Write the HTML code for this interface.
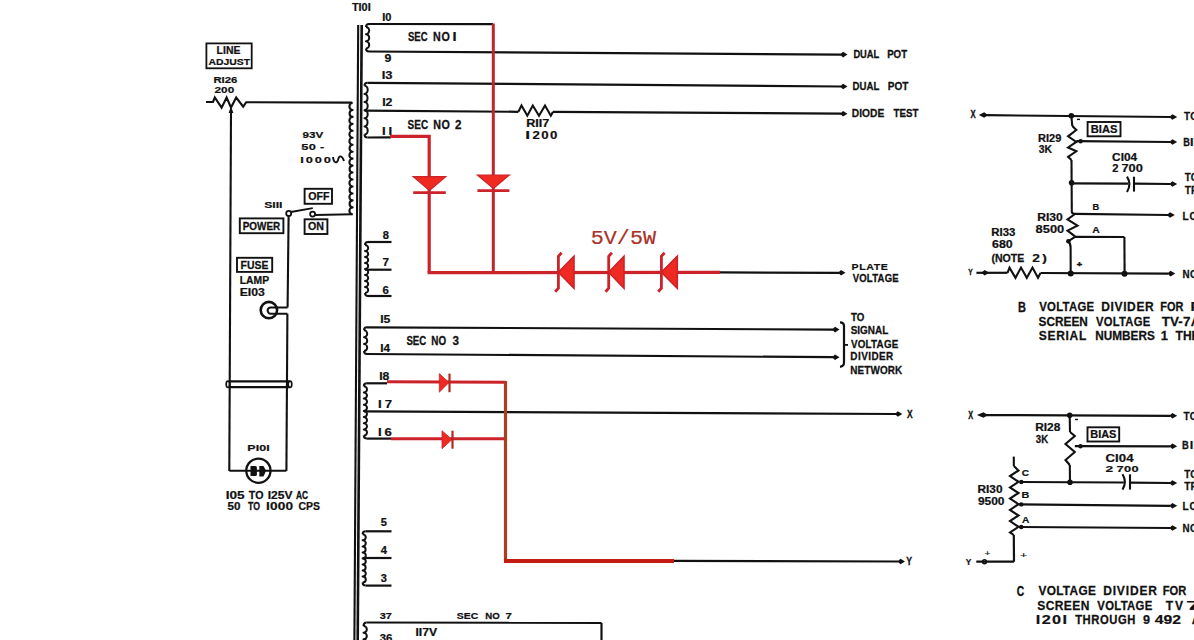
<!DOCTYPE html>
<html><head><meta charset="utf-8"><title>Schematic</title>
<style>
html,body{margin:0;padding:0;background:#fff;}
body{width:1194px;height:640px;overflow:hidden;}
svg{display:block;}
</style></head>
<body>
<svg width="1194" height="640" viewBox="0 0 1194 640" font-family="Liberation Sans, sans-serif">
<rect width="1194" height="640" fill="#fff"/>
<rect x="206.4" y="43.4" width="45.3" height="24.9" stroke="#111" stroke-width="1.8" fill="none"/>
<text transform="translate(216.60,53.50) scale(1.027,1)" font-family="Liberation Sans" font-weight="bold" font-size="10.17" fill="#111" stroke="#111" stroke-width="0.24" textLength="23.18" lengthAdjust="spacing">LINE</text>
<text transform="translate(208.54,64.50) scale(1.083,1)" font-family="Liberation Sans" font-weight="bold" font-size="9.59" fill="#111" stroke="#111" stroke-width="0.23" textLength="38.38" lengthAdjust="spacing">ADJUST</text>
<text transform="translate(213.44,83.20) scale(1.214,1)" font-family="Liberation Sans" font-weight="bold" font-size="9.30" fill="#111" stroke="#111" stroke-width="0.21" textLength="19.65" lengthAdjust="spacing">RI26</text>
<text transform="translate(214.59,92.60) scale(1.262,1)" font-family="Liberation Sans" font-weight="bold" font-size="9.30" fill="#111" stroke="#111" stroke-width="0.20" textLength="15.52" lengthAdjust="spacing">200</text>
<path d="M206.0,102.0 L213.0,102.0 L214.8,97.5 L221.6,107.6 L226.6,97.5 L231.0,107.5 L236.2,97.5 L243.2,106.6 L246.2,102.2 L352.2,102.6" stroke="#111" stroke-width="2.1" fill="none" stroke-linejoin="miter"/>
<path d="M231,106.5 L228.6,113 L233.4,113 Z" fill="#111"/>
<line x1="231.0" y1="110.0" x2="229.3" y2="471.0" stroke="#111" stroke-width="2.1" stroke-linecap="butt"/>
<path d="M352.6,103.0 A3.20,3.48 0 0 0 352.6,109.96 A3.20,3.48 0 0 0 352.6,116.91 A3.20,3.48 0 0 0 352.6,123.87 A3.20,3.48 0 0 0 352.6,130.82 A3.20,3.48 0 0 0 352.6,137.78 A3.20,3.48 0 0 0 352.6,144.74 A3.20,3.48 0 0 0 352.6,151.69 A3.20,3.48 0 0 0 352.6,158.65 A3.20,3.48 0 0 0 352.6,165.61 A3.20,3.48 0 0 0 352.6,172.56 A3.20,3.48 0 0 0 352.6,179.52 A3.20,3.48 0 0 0 352.6,186.48 A3.20,3.48 0 0 0 352.6,193.43 A3.20,3.48 0 0 0 352.6,200.39 A3.20,3.48 0 0 0 352.6,207.34 A3.20,3.48 0 0 0 352.6,214.30" stroke="#111" stroke-width="2.1" fill="none" stroke-linejoin="round"/>
<line x1="352.6" y1="214.3" x2="315.0" y2="215.0" stroke="#111" stroke-width="2.1" stroke-linecap="butt"/>
<text transform="translate(302.50,137.60) scale(1.182,1)" font-family="Liberation Sans" font-weight="bold" font-size="9.88" fill="#111" stroke="#111" stroke-width="0.21" textLength="17.59" lengthAdjust="spacing">93V</text>
<text transform="translate(301.30,149.90) scale(1.300,1)" font-family="Liberation Sans" font-weight="bold" font-size="9.88" fill="#111" stroke="#111" stroke-width="0.19" textLength="17.72" lengthAdjust="spacing">50 -</text>
<text transform="translate(300.14,163.10) scale(1.300,1)" font-family="Liberation Sans" font-weight="bold" font-size="9.88" fill="#111" stroke="#111" stroke-width="0.19" textLength="23.73" lengthAdjust="spacing">I000</text>
<path d="M333,157 C333.5,163 337,164 338,160 C339,155 342,155 344,161" stroke="#111" stroke-width="1.9" fill="none" stroke-linejoin="round"/>
<rect x="304.6" y="188.8" width="27.4" height="15.0" stroke="#111" stroke-width="1.9" fill="none"/>
<text transform="translate(308.16,199.95) scale(1.000,1)" font-family="Liberation Sans" font-weight="bold" font-size="10.61" fill="#111" stroke="#111" stroke-width="0.25" textLength="21.22" lengthAdjust="spacing">OFF</text>
<rect x="304.6" y="219.3" width="22.8" height="14.7" stroke="#111" stroke-width="1.9" fill="none"/>
<text transform="translate(307.96,230.15) scale(1.002,1)" font-family="Liberation Sans" font-weight="bold" font-size="10.61" fill="#111" stroke="#111" stroke-width="0.25" textLength="15.92" lengthAdjust="spacing">ON</text>
<text transform="translate(264.15,207.65) scale(1.257,1)" font-family="Liberation Sans" font-weight="bold" font-size="9.74" fill="#111" stroke="#111" stroke-width="0.20" textLength="14.61" lengthAdjust="spacing">SIII</text>
<rect x="239.8" y="218.4" width="43.6" height="14.8" stroke="#111" stroke-width="1.9" fill="none"/>
<text transform="translate(242.74,229.50) scale(0.922,1)" font-family="Liberation Sans" font-weight="bold" font-size="10.76" fill="#111" stroke="#111" stroke-width="0.27" textLength="40.63" lengthAdjust="spacing">POWER</text>
<circle cx="288.7" cy="213.4" r="2.5" stroke="#111" stroke-width="1.8" fill="none"/>
<circle cx="312.6" cy="214.1" r="2.5" stroke="#111" stroke-width="1.8" fill="none"/>
<line x1="290.8" y1="212.0" x2="312.8" y2="208.2" stroke="#111" stroke-width="1.8" stroke-linecap="butt"/>
<line x1="288.6" y1="216.0" x2="287.6" y2="307.4" stroke="#111" stroke-width="2.1" stroke-linecap="butt"/>
<rect x="237.0" y="257.8" width="35.2" height="14.1" stroke="#111" stroke-width="1.9" fill="none"/>
<text transform="translate(240.60,268.80) scale(0.969,1)" font-family="Liberation Sans" font-weight="bold" font-size="10.76" fill="#111" stroke="#111" stroke-width="0.26" textLength="28.69" lengthAdjust="spacing">FUSE</text>
<text transform="translate(239.81,283.80) scale(1.015,1)" font-family="Liberation Sans" font-weight="bold" font-size="10.17" fill="#111" stroke="#111" stroke-width="0.25" textLength="28.82" lengthAdjust="spacing">LAMP</text>
<text transform="translate(239.68,295.80) scale(1.207,1)" font-family="Liberation Sans" font-weight="bold" font-size="10.17" fill="#111" stroke="#111" stroke-width="0.21" textLength="20.93" lengthAdjust="spacing">EI03</text>
<circle cx="268.9" cy="310.1" r="8.2" stroke="#111" stroke-width="2.6" fill="none"/>
<path d="M287.6,307.4 L270.8,307.4 A3.17,3.17 0 0 0 270.8,313.75 L287.4,313.75" stroke="#111" stroke-width="2.0" fill="none" stroke-linejoin="round"/>
<line x1="287.4" y1="313.8" x2="286.4" y2="471.0" stroke="#111" stroke-width="2.1" stroke-linecap="butt"/>
<line x1="229.0" y1="381.4" x2="289.5" y2="381.4" stroke="#111" stroke-width="2.2" stroke-linecap="butt"/>
<line x1="229.0" y1="387.2" x2="289.5" y2="387.2" stroke="#111" stroke-width="2.2" stroke-linecap="butt"/>
<ellipse cx="228" cy="384.3" rx="1.8" ry="3.2" stroke="#111" stroke-width="1.7" fill="none"/>
<ellipse cx="290" cy="384.3" rx="1.8" ry="3.2" stroke="#111" stroke-width="1.7" fill="none"/>
<line x1="229.3" y1="470.8" x2="286.4" y2="470.8" stroke="#111" stroke-width="2.1" stroke-linecap="butt"/>
<circle cx="258.4" cy="470.7" r="12.1" stroke="#111" stroke-width="2.3" fill="none"/>
<path d="M250.5,466 h4.8 a1.6,1.6 0 0 1 1.6,1.6 v6.8 a1.6,1.6 0 0 1 -1.6,1.6 h-4.8 z" fill="#111"/>
<path d="M259.3,466 h4.2 l2.6,4.8 l-2.6,5.8 h-4.2 z" fill="#111"/>
<text transform="translate(247.37,451.20) scale(1.300,1)" font-family="Liberation Sans" font-weight="bold" font-size="9.59" fill="#111" stroke="#111" stroke-width="0.19" textLength="17.25" lengthAdjust="spacing">PI0I</text>
<text transform="translate(225.69,498.60) scale(1.298,1)" font-family="Liberation Sans" font-weight="bold" font-size="10.47" fill="#111" stroke="#111" stroke-width="0.19" textLength="14.55" lengthAdjust="spacing">I05</text>
<text transform="translate(248.68,498.60) scale(1.016,1)" font-family="Liberation Sans" font-weight="bold" font-size="10.47" fill="#111" stroke="#111" stroke-width="0.25" textLength="14.53" lengthAdjust="spacing">TO</text>
<text transform="translate(267.69,498.60) scale(1.151,1)" font-family="Liberation Sans" font-weight="bold" font-size="10.47" fill="#111" stroke="#111" stroke-width="0.22" textLength="21.53" lengthAdjust="spacing">I25V</text>
<text transform="translate(295.89,498.60) scale(0.803,1)" font-family="Liberation Sans" font-weight="bold" font-size="10.47" fill="#111" stroke="#111" stroke-width="0.31" textLength="15.12" lengthAdjust="spacing">AC</text>
<text transform="translate(227.54,509.50) scale(1.111,1)" font-family="Liberation Sans" font-weight="bold" font-size="10.47" fill="#111" stroke="#111" stroke-width="0.22" textLength="11.64" lengthAdjust="spacing">50</text>
<text transform="translate(247.90,509.50) scale(0.837,1)" font-family="Liberation Sans" font-weight="bold" font-size="10.47" fill="#111" stroke="#111" stroke-width="0.30" textLength="14.53" lengthAdjust="spacing">TO</text>
<text transform="translate(265.89,509.50) scale(1.300,1)" font-family="Liberation Sans" font-weight="bold" font-size="10.47" fill="#111" stroke="#111" stroke-width="0.19" textLength="20.97" lengthAdjust="spacing">I000</text>
<text transform="translate(298.57,509.50) scale(0.996,1)" font-family="Liberation Sans" font-weight="bold" font-size="10.47" fill="#111" stroke="#111" stroke-width="0.25" textLength="21.52" lengthAdjust="spacing">CPS</text>
<text transform="translate(351.88,10.50) scale(1.076,1)" font-family="Liberation Sans" font-weight="bold" font-size="10.17" fill="#111" stroke="#111" stroke-width="0.23" textLength="17.53" lengthAdjust="spacing">TI0I</text>
<line x1="358.2" y1="25.0" x2="354.4" y2="640.0" stroke="#111" stroke-width="2.1" stroke-linecap="butt"/>
<line x1="361.7" y1="25.0" x2="357.7" y2="640.0" stroke="#111" stroke-width="2.6" stroke-linecap="butt"/>
<path d="M366.0,27.0 A3.20,3.58 0 0 1 366.0,34.17 A3.20,3.58 0 0 1 366.0,41.33 A3.20,3.58 0 0 1 366.0,48.50" stroke="#111" stroke-width="2.0" fill="none" stroke-linejoin="round"/>
<path d="M369.0,24.0 Q366.0,24.0 366.0,27.0" stroke="#111" stroke-width="2.0" fill="none" stroke-linejoin="round"/>
<path d="M366.0,48.5 Q366.0,51.5 369.0,51.5" stroke="#111" stroke-width="2.0" fill="none" stroke-linejoin="round"/>
<line x1="369.0" y1="24.0" x2="493.0" y2="24.2" stroke="#111" stroke-width="2.2" stroke-linecap="butt"/>
<line x1="369.0" y1="51.5" x2="841.0" y2="54.6" stroke="#111" stroke-width="2.2" stroke-linecap="butt"/>
<path d="M847.5,54.6 L843.0,51.8 L840.0,54.6 L843.0,57.4 Z" fill="#111"/>
<text transform="translate(382.26,21.10) scale(1.083,1)" font-family="Liberation Sans" font-weight="bold" font-size="10.17" fill="#111" stroke="#111" stroke-width="0.23" textLength="8.49" lengthAdjust="spacing">I0</text>
<text transform="translate(384.57,61.50) scale(1.217,1)" font-family="Liberation Sans" font-weight="bold" font-size="10.17" fill="#111" stroke="#111" stroke-width="0.21">9</text>
<text transform="translate(407.92,41.20) scale(0.801,1)" font-family="Liberation Sans" font-weight="bold" font-size="11.92" fill="#111" stroke="#111" stroke-width="0.31" textLength="24.51" lengthAdjust="spacing">SEC</text>
<text transform="translate(432.98,41.20) scale(0.900,1)" font-family="Liberation Sans" font-weight="bold" font-size="11.92" fill="#111" stroke="#111" stroke-width="0.28" textLength="18.72" lengthAdjust="spacing">NO</text>
<text transform="translate(452.62,41.20) scale(1.223,1)" font-family="Liberation Sans" font-weight="bold" font-size="11.92" fill="#111" stroke="#111" stroke-width="0.20">I</text>
<text transform="translate(853.38,58.00) scale(0.802,1)" font-family="Liberation Sans" font-weight="bold" font-size="11.63" fill="#111" stroke="#111" stroke-width="0.31" textLength="32.29" lengthAdjust="spacing">DUAL</text>
<text transform="translate(887.15,58.00) scale(0.835,1)" font-family="Liberation Sans" font-weight="bold" font-size="11.63" fill="#111" stroke="#111" stroke-width="0.30" textLength="23.90" lengthAdjust="spacing">POT</text>
<path d="M364.5,85.8 A3.20,4.06 0 0 1 364.5,93.92 A3.20,4.06 0 0 1 364.5,102.03 A3.20,4.06 0 0 1 364.5,110.15 A3.20,4.06 0 0 1 364.5,118.27 A3.20,4.06 0 0 1 364.5,126.38 A3.20,4.06 0 0 1 364.5,134.50" stroke="#111" stroke-width="2.0" fill="none" stroke-linejoin="round"/>
<path d="M367.5,82.8 Q364.5,82.8 364.5,85.8" stroke="#111" stroke-width="2.0" fill="none" stroke-linejoin="round"/>
<path d="M364.5,134.5 Q364.5,137.5 367.5,137.5" stroke="#111" stroke-width="2.0" fill="none" stroke-linejoin="round"/>
<line x1="367.5" y1="82.8" x2="841.0" y2="86.5" stroke="#111" stroke-width="2.2" stroke-linecap="butt"/>
<path d="M847.5,86.5 L843.0,83.7 L840.0,86.5 L843.0,89.3 Z" fill="#111"/>
<line x1="364.5" y1="110.6" x2="518.4" y2="111.8" stroke="#111" stroke-width="2.2" stroke-linecap="butt"/>
<path d="M518.4,111.8 L521.5,105.5 L527.3,115.7 L532.8,105.5 L539.0,115.7 L545.0,105.5 L550.8,115.7 L553.0,111.9" stroke="#111" stroke-width="2.1" fill="none" stroke-linejoin="miter"/>
<line x1="553.0" y1="111.9" x2="841.0" y2="113.7" stroke="#111" stroke-width="2.2" stroke-linecap="butt"/>
<path d="M847.5,113.7 L843.0,110.9 L840.0,113.7 L843.0,116.5 Z" fill="#111"/>
<line x1="367.5" y1="137.5" x2="391.0" y2="137.3" stroke="#111" stroke-width="2.2" stroke-linecap="butt"/>
<text transform="translate(381.63,79.10) scale(1.277,1)" font-family="Liberation Sans" font-weight="bold" font-size="10.17" fill="#111" stroke="#111" stroke-width="0.20" textLength="8.49" lengthAdjust="spacing">I3</text>
<text transform="translate(382.17,106.00) scale(1.217,1)" font-family="Liberation Sans" font-weight="bold" font-size="10.17" fill="#111" stroke="#111" stroke-width="0.21" textLength="8.49" lengthAdjust="spacing">I2</text>
<text transform="translate(382.12,134.50) scale(1.300,1)" font-family="Liberation Sans" font-weight="bold" font-size="10.17" fill="#111" stroke="#111" stroke-width="0.19" textLength="7.84" lengthAdjust="spacing">II</text>
<text transform="translate(407.61,128.50) scale(0.835,1)" font-family="Liberation Sans" font-weight="bold" font-size="11.92" fill="#111" stroke="#111" stroke-width="0.30" textLength="24.51" lengthAdjust="spacing">SEC</text>
<text transform="translate(433.28,128.50) scale(0.900,1)" font-family="Liberation Sans" font-weight="bold" font-size="11.92" fill="#111" stroke="#111" stroke-width="0.28" textLength="18.50" lengthAdjust="spacing">NO</text>
<text transform="translate(455.00,128.50) scale(0.976,1)" font-family="Liberation Sans" font-weight="bold" font-size="11.92" fill="#111" stroke="#111" stroke-width="0.26">2</text>
<text transform="translate(852.56,89.80) scale(0.828,1)" font-family="Liberation Sans" font-weight="bold" font-size="11.63" fill="#111" stroke="#111" stroke-width="0.30" textLength="32.29" lengthAdjust="spacing">DUAL</text>
<text transform="translate(887.73,89.80) scale(0.865,1)" font-family="Liberation Sans" font-weight="bold" font-size="11.63" fill="#111" stroke="#111" stroke-width="0.29" textLength="23.90" lengthAdjust="spacing">POT</text>
<text transform="translate(851.82,117.30) scale(0.879,1)" font-family="Liberation Sans" font-weight="bold" font-size="11.63" fill="#111" stroke="#111" stroke-width="0.28" textLength="36.83" lengthAdjust="spacing">DIODE</text>
<text transform="translate(893.59,117.30) scale(0.835,1)" font-family="Liberation Sans" font-weight="bold" font-size="11.63" fill="#111" stroke="#111" stroke-width="0.30" textLength="29.72" lengthAdjust="spacing">TEST</text>
<text transform="translate(526.15,127.00) scale(1.243,1)" font-family="Liberation Sans" font-weight="bold" font-size="10.17" fill="#111" stroke="#111" stroke-width="0.20" textLength="18.66" lengthAdjust="spacing">RII7</text>
<text transform="translate(525.34,139.10) scale(1.706,1)" font-family="Liberation Sans" font-weight="bold" font-size="10.17" fill="#111" stroke="#111" stroke-width="0.15">I</text>
<text transform="translate(532.54,139.10) scale(1.300,1)" font-family="Liberation Sans" font-weight="bold" font-size="10.17" fill="#111" stroke="#111" stroke-width="0.19" textLength="19.09" lengthAdjust="spacing">200</text>
<path d="M365.0,245.0 A3.20,3.00 0 0 1 365.0,251.00 A3.20,3.00 0 0 1 365.0,257.00 A3.20,3.00 0 0 1 365.0,263.00 A3.20,3.00 0 0 1 365.0,269.00 A3.20,3.00 0 0 1 365.0,275.00 A3.20,3.00 0 0 1 365.0,281.00 A3.20,3.00 0 0 1 365.0,287.00 A3.20,3.00 0 0 1 365.0,293.00" stroke="#111" stroke-width="2.0" fill="none" stroke-linejoin="round"/>
<path d="M368.0,242.0 Q365.0,242.0 365.0,245.0" stroke="#111" stroke-width="2.0" fill="none" stroke-linejoin="round"/>
<path d="M365.0,293.0 Q365.0,296.0 368.0,296.0" stroke="#111" stroke-width="2.0" fill="none" stroke-linejoin="round"/>
<line x1="368.0" y1="242.0" x2="391.5" y2="242.0" stroke="#111" stroke-width="2.2" stroke-linecap="butt"/>
<line x1="365.0" y1="269.7" x2="391.5" y2="269.7" stroke="#111" stroke-width="2.2" stroke-linecap="butt"/>
<line x1="368.0" y1="296.0" x2="391.5" y2="296.0" stroke="#111" stroke-width="2.2" stroke-linecap="butt"/>
<text transform="translate(382.65,238.50) scale(1.095,1)" font-family="Liberation Sans" font-weight="bold" font-size="10.17" fill="#111" stroke="#111" stroke-width="0.23">8</text>
<text transform="translate(382.50,266.00) scale(1.152,1)" font-family="Liberation Sans" font-weight="bold" font-size="10.17" fill="#111" stroke="#111" stroke-width="0.22">7</text>
<text transform="translate(382.58,294.20) scale(1.118,1)" font-family="Liberation Sans" font-weight="bold" font-size="10.17" fill="#111" stroke="#111" stroke-width="0.22">6</text>
<path d="M364.0,330.3 A3.20,3.45 0 0 1 364.0,337.20 A3.20,3.45 0 0 1 364.0,344.10 A3.20,3.45 0 0 1 364.0,351.00" stroke="#111" stroke-width="2.0" fill="none" stroke-linejoin="round"/>
<path d="M367.0,327.3 Q364.0,327.3 364.0,330.3" stroke="#111" stroke-width="2.0" fill="none" stroke-linejoin="round"/>
<path d="M364.0,351.0 Q364.0,354.0 367.0,354.0" stroke="#111" stroke-width="2.0" fill="none" stroke-linejoin="round"/>
<line x1="367.0" y1="327.3" x2="833.0" y2="329.6" stroke="#111" stroke-width="2.2" stroke-linecap="butt"/>
<path d="M839.5,329.6 L835.0,326.8 L832.0,329.6 L835.0,332.4 Z" fill="#111"/>
<line x1="367.0" y1="354.0" x2="833.0" y2="357.2" stroke="#111" stroke-width="2.2" stroke-linecap="butt"/>
<path d="M839.5,357.2 L835.0,354.4 L832.0,357.2 L835.0,360.0 Z" fill="#111"/>
<text transform="translate(380.19,323.00) scale(1.197,1)" font-family="Liberation Sans" font-weight="bold" font-size="10.17" fill="#111" stroke="#111" stroke-width="0.21" textLength="8.49" lengthAdjust="spacing">I5</text>
<text transform="translate(380.21,351.90) scale(1.161,1)" font-family="Liberation Sans" font-weight="bold" font-size="10.17" fill="#111" stroke="#111" stroke-width="0.22" textLength="8.49" lengthAdjust="spacing">I4</text>
<text transform="translate(406.42,344.60) scale(0.810,1)" font-family="Liberation Sans" font-weight="bold" font-size="11.92" fill="#111" stroke="#111" stroke-width="0.31" textLength="24.51" lengthAdjust="spacing">SEC</text>
<text transform="translate(431.34,344.60) scale(0.826,1)" font-family="Liberation Sans" font-weight="bold" font-size="11.92" fill="#111" stroke="#111" stroke-width="0.30" textLength="17.88" lengthAdjust="spacing">NO</text>
<text transform="translate(452.53,344.60) scale(0.979,1)" font-family="Liberation Sans" font-weight="bold" font-size="11.92" fill="#111" stroke="#111" stroke-width="0.26">3</text>
<path d="M840,322.3 Q844,322.3 844,326 L844,362.5 Q844,366.3 840,366.8" stroke="#111" stroke-width="2.2" fill="none" stroke-linejoin="round"/>
<line x1="844.0" y1="344.9" x2="848.0" y2="344.9" stroke="#111" stroke-width="1.8" stroke-linecap="butt"/>
<text transform="translate(850.89,321.10) scale(0.881,1)" font-family="Liberation Sans" font-weight="bold" font-size="11.05" fill="#111" stroke="#111" stroke-width="0.28" textLength="15.34" lengthAdjust="spacing">TO</text>
<text transform="translate(850.71,334.00) scale(0.900,1)" font-family="Liberation Sans" font-weight="bold" font-size="11.05" fill="#111" stroke="#111" stroke-width="0.28" textLength="41.78" lengthAdjust="spacing">SIGNAL</text>
<text transform="translate(850.93,347.50) scale(0.889,1)" font-family="Liberation Sans" font-weight="bold" font-size="11.05" fill="#111" stroke="#111" stroke-width="0.28" textLength="53.39" lengthAdjust="spacing">VOLTAGE</text>
<text transform="translate(850.33,360.40) scale(0.900,1)" font-family="Liberation Sans" font-weight="bold" font-size="11.05" fill="#111" stroke="#111" stroke-width="0.28" textLength="47.71" lengthAdjust="spacing">DIVIDER</text>
<text transform="translate(850.33,373.80) scale(0.900,1)" font-family="Liberation Sans" font-weight="bold" font-size="11.05" fill="#111" stroke="#111" stroke-width="0.28" textLength="57.58" lengthAdjust="spacing">NETWORK</text>
<path d="M363.8,386.3 A3.20,3.08 0 0 1 363.8,392.46 A3.20,3.08 0 0 1 363.8,398.62 A3.20,3.08 0 0 1 363.8,404.79 A3.20,3.08 0 0 1 363.8,410.95 A3.20,3.08 0 0 1 363.8,417.11 A3.20,3.08 0 0 1 363.8,423.28 A3.20,3.08 0 0 1 363.8,429.44 A3.20,3.08 0 0 1 363.8,435.60" stroke="#111" stroke-width="2.0" fill="none" stroke-linejoin="round"/>
<path d="M366.8,383.3 Q363.8,383.3 363.8,386.3" stroke="#111" stroke-width="2.0" fill="none" stroke-linejoin="round"/>
<path d="M363.8,435.6 Q363.8,438.6 366.8,438.6" stroke="#111" stroke-width="2.0" fill="none" stroke-linejoin="round"/>
<line x1="366.8" y1="383.3" x2="387.0" y2="383.3" stroke="#111" stroke-width="2.2" stroke-linecap="butt"/>
<line x1="363.8" y1="411.4" x2="896.0" y2="414.0" stroke="#111" stroke-width="2.2" stroke-linecap="butt"/>
<path d="M902.3,414.0 L897.8,411.2 L894.8,414.0 L897.8,416.8 Z" fill="#111"/>
<line x1="366.8" y1="438.6" x2="391.0" y2="438.6" stroke="#111" stroke-width="2.2" stroke-linecap="butt"/>
<text transform="translate(379.18,380.00) scale(1.201,1)" font-family="Liberation Sans" font-weight="bold" font-size="10.17" fill="#111" stroke="#111" stroke-width="0.21" textLength="8.49" lengthAdjust="spacing">I8</text>
<text transform="translate(378.12,407.50) scale(1.300,1)" font-family="Liberation Sans" font-weight="bold" font-size="10.17" fill="#111" stroke="#111" stroke-width="0.19" textLength="10.69" lengthAdjust="spacing">I7</text>
<text transform="translate(378.12,435.50) scale(1.300,1)" font-family="Liberation Sans" font-weight="bold" font-size="10.17" fill="#111" stroke="#111" stroke-width="0.19" textLength="10.53" lengthAdjust="spacing">I6</text>
<text transform="translate(906.93,417.80) scale(0.832,1)" font-family="Liberation Sans" font-weight="bold" font-size="10.17" fill="#111" stroke="#111" stroke-width="0.30">X</text>
<path d="M362.6,534.3 A3.20,3.02 0 0 1 362.6,540.34 A3.20,3.02 0 0 1 362.6,546.38 A3.20,3.02 0 0 1 362.6,552.41 A3.20,3.02 0 0 1 362.6,558.45 A3.20,3.02 0 0 1 362.6,564.49 A3.20,3.02 0 0 1 362.6,570.52 A3.20,3.02 0 0 1 362.6,576.56 A3.20,3.02 0 0 1 362.6,582.60" stroke="#111" stroke-width="2.0" fill="none" stroke-linejoin="round"/>
<path d="M365.6,531.3 Q362.6,531.3 362.6,534.3" stroke="#111" stroke-width="2.0" fill="none" stroke-linejoin="round"/>
<path d="M362.6,582.6 Q362.6,585.6 365.6,585.6" stroke="#111" stroke-width="2.0" fill="none" stroke-linejoin="round"/>
<line x1="365.6" y1="531.3" x2="391.5" y2="531.3" stroke="#111" stroke-width="2.2" stroke-linecap="butt"/>
<line x1="362.6" y1="558.0" x2="391.5" y2="558.0" stroke="#111" stroke-width="2.2" stroke-linecap="butt"/>
<line x1="365.6" y1="585.6" x2="391.5" y2="585.6" stroke="#111" stroke-width="2.2" stroke-linecap="butt"/>
<text transform="translate(380.66,526.10) scale(1.086,1)" font-family="Liberation Sans" font-weight="bold" font-size="10.17" fill="#111" stroke="#111" stroke-width="0.23">5</text>
<text transform="translate(380.83,554.30) scale(1.101,1)" font-family="Liberation Sans" font-weight="bold" font-size="10.17" fill="#111" stroke="#111" stroke-width="0.23">4</text>
<text transform="translate(380.75,581.50) scale(1.088,1)" font-family="Liberation Sans" font-weight="bold" font-size="10.17" fill="#111" stroke="#111" stroke-width="0.23">3</text>
<path d="M363.5,626.0 A3.33,3.33 0 0 1 363.5,632.67 A3.33,3.33 0 0 1 363.5,639.33 A3.33,3.33 0 0 1 363.5,646.00" stroke="#111" stroke-width="2.0" fill="none" stroke-linejoin="round"/>
<path d="M366.5,622.5 Q363.5,622.5 363.5,626" stroke="#111" stroke-width="2.0" fill="none" stroke-linejoin="round"/>
<line x1="366.5" y1="622.5" x2="601.5" y2="622.9" stroke="#111" stroke-width="2.2" stroke-linecap="butt"/>
<line x1="601.5" y1="622.9" x2="601.5" y2="640.0" stroke="#111" stroke-width="2.2" stroke-linecap="butt"/>
<text transform="translate(379.75,619.00) scale(1.137,1)" font-family="Liberation Sans" font-weight="bold" font-size="9.59" fill="#111" stroke="#111" stroke-width="0.22" textLength="10.67" lengthAdjust="spacing">37</text>
<text transform="translate(379.74,641.50) scale(1.120,1)" font-family="Liberation Sans" font-weight="bold" font-size="10.17" fill="#111" stroke="#111" stroke-width="0.22" textLength="11.32" lengthAdjust="spacing">36</text>
<text transform="translate(456.80,619.00) scale(1.084,1)" font-family="Liberation Sans" font-weight="bold" font-size="9.59" fill="#111" stroke="#111" stroke-width="0.23" textLength="19.72" lengthAdjust="spacing">SEC</text>
<text transform="translate(485.36,619.00) scale(1.004,1)" font-family="Liberation Sans" font-weight="bold" font-size="9.59" fill="#111" stroke="#111" stroke-width="0.25" textLength="14.39" lengthAdjust="spacing">NO</text>
<text transform="translate(505.51,619.00) scale(1.200,1)" font-family="Liberation Sans" font-weight="bold" font-size="9.59" fill="#111" stroke="#111" stroke-width="0.21">7</text>
<text transform="translate(415.38,636.30) scale(1.199,1)" font-family="Liberation Sans" font-weight="bold" font-size="10.17" fill="#111" stroke="#111" stroke-width="0.21" textLength="18.10" lengthAdjust="spacing">II7V</text>
<path d="M390.0,136.3 L429.2,136.3 L429.2,272.6" stroke="#cc2229" stroke-width="3.2" fill="none" stroke-linejoin="miter"/>
<line x1="493.3" y1="23.5" x2="493.3" y2="272.6" stroke="#c0242c" stroke-width="3.0" stroke-linecap="butt"/>
<line x1="427.6" y1="272.6" x2="720.0" y2="272.4" stroke="#cc2229" stroke-width="3.2" stroke-linecap="butt"/>
<line x1="720.0" y1="272.4" x2="839.0" y2="272.8" stroke="#111" stroke-width="2.2" stroke-linecap="butt"/>
<path d="M845.5,272.8 L841.0,270.0 L838.0,272.8 L841.0,275.6 Z" fill="#111"/>
<text transform="translate(851.49,269.70) scale(1.100,1)" font-family="Liberation Sans" font-weight="bold" font-size="9.59" fill="#111" stroke="#111" stroke-width="0.23" textLength="32.95" lengthAdjust="spacing">PLATE</text>
<text transform="translate(852.63,282.30) scale(0.862,1)" font-family="Liberation Sans" font-weight="bold" font-size="11.05" fill="#111" stroke="#111" stroke-width="0.29" textLength="53.39" lengthAdjust="spacing">VOLTAGE</text>
<path d="M413.2,176.6 L445.8,176.6 L429.5,190.5 Z" fill="#ee2a22" stroke="#cc2229" stroke-width="1.2"/>
<line x1="413.2" y1="192.6" x2="445.8" y2="192.6" stroke="#cc2229" stroke-width="2.8" stroke-linecap="butt"/>
<path d="M477.4,175.0 L509.4,175.0 L493.4,188.5 Z" fill="#ee2a22" stroke="#cc2229" stroke-width="1.2"/>
<line x1="477.4" y1="190.6" x2="509.4" y2="190.6" stroke="#cc2229" stroke-width="2.8" stroke-linecap="butt"/>
<path d="M574.0,256.3 L574.0,288.3 L558.4,272.3 Z" fill="#ee2a22" stroke="#cc2229" stroke-width="1.6"/>
<path d="M561.6,252.8 L558.4,256.3 L558.4,288.3 L555.2,291.8" stroke="#cc2229" stroke-width="2.8" fill="none" stroke-linejoin="miter"/>
<path d="M624.0,256.3 L624.0,288.3 L608.7,272.3 Z" fill="#ee2a22" stroke="#cc2229" stroke-width="1.6"/>
<path d="M611.9,252.8 L608.7,256.3 L608.7,288.3 L605.5,291.8" stroke="#cc2229" stroke-width="2.8" fill="none" stroke-linejoin="miter"/>
<path d="M677.3,256.3 L677.3,288.3 L661.4,272.3 Z" fill="#ee2a22" stroke="#cc2229" stroke-width="1.6"/>
<path d="M664.6,252.8 L661.4,256.3 L661.4,288.3 L658.2,291.8" stroke="#cc2229" stroke-width="2.8" fill="none" stroke-linejoin="miter"/>
<text transform="translate(590.74,244.45) scale(1.061,1)" font-family="Liberation Mono" font-weight="normal" font-size="20.50" fill="#a83228" stroke="#a83228" stroke-width="0.19" textLength="61.50" lengthAdjust="spacing">5V/5W</text>
<line x1="387.0" y1="381.8" x2="505.7" y2="382.3" stroke="#cc2229" stroke-width="3.0" stroke-linecap="butt"/>
<path d="M439.3,373.6 L439.3,392.2 L449,382.5 Z" fill="#ee2a22" stroke="#cc2229" stroke-width="0.8"/>
<line x1="449.5" y1="373.6" x2="449.5" y2="392.2" stroke="#b02a20" stroke-width="2.2" stroke-linecap="butt"/>
<line x1="391.0" y1="438.7" x2="505.7" y2="438.7" stroke="#cc2229" stroke-width="3.0" stroke-linecap="butt"/>
<path d="M442,430.7 L442,448.7 L452,439.5 Z" fill="#ee2a22" stroke="#cc2229" stroke-width="0.8"/>
<line x1="452.5" y1="430.7" x2="452.5" y2="448.7" stroke="#b02a20" stroke-width="2.2" stroke-linecap="butt"/>
<line x1="505.5" y1="381.0" x2="505.5" y2="561.0" stroke="#a8401c" stroke-width="3.2" stroke-linecap="butt"/>
<line x1="504.0" y1="561.0" x2="674.0" y2="561.0" stroke="#c41c10" stroke-width="3.8" stroke-linecap="butt"/>
<line x1="674.0" y1="560.8" x2="898.5" y2="561.5" stroke="#111" stroke-width="2.2" stroke-linecap="butt"/>
<path d="M905.0,561.5 L900.5,558.7 L897.5,561.5 L900.5,564.3 Z" fill="#111"/>
<text transform="translate(906.35,564.80) scale(0.853,1)" font-family="Liberation Sans" font-weight="bold" font-size="10.17" fill="#111" stroke="#111" stroke-width="0.29">Y</text>
<text transform="translate(970.53,117.90) scale(0.757,1)" font-family="Liberation Sans" font-weight="bold" font-size="10.17" fill="#111" stroke="#111" stroke-width="0.33">X</text>
<line x1="985.0" y1="115.2" x2="1170.0" y2="117.0" stroke="#111" stroke-width="2.2" stroke-linecap="butt"/>
<path d="M978.8,115.0 L984.2,112.2 L987.8,115.0 L984.2,117.8 Z" fill="#111"/>
<circle cx="1071.3" cy="115.7" r="2.8" fill="#111"/>
<path d="M1177.2,117.0 L1172.4,114.2 L1169.2,117.0 L1172.4,119.8 Z" fill="#111"/>
<text transform="translate(1184.09,119.75) scale(0.890,1)" font-family="Liberation Sans" font-weight="bold" font-size="11.19" fill="#111" stroke="#111" stroke-width="0.28" textLength="15.54" lengthAdjust="spacing">TO</text>
<line x1="1071.3" y1="115.7" x2="1072.3" y2="126.0" stroke="#111" stroke-width="2.1" stroke-linecap="butt"/>
<path d="M1072.3,126.0 L1076.3,130.0 L1068.1,136.3 L1076.3,141.9 L1068.1,147.5 L1076.3,151.3 L1068.1,156.9 L1071.5,160.0" stroke="#111" stroke-width="2.1" fill="none" stroke-linejoin="miter"/>
<line x1="1071.5" y1="160.0" x2="1071.8" y2="211.9" stroke="#111" stroke-width="2.1" stroke-linecap="butt"/>
<circle cx="1071.6" cy="182.8" r="2.8" fill="#111"/>
<rect x="1087.6" y="122.0" width="32.9" height="14.3" stroke="#111" stroke-width="1.9" fill="none"/>
<text transform="translate(1090.75,132.80) scale(1.067,1)" font-family="Liberation Sans" font-weight="bold" font-size="10.47" fill="#111" stroke="#111" stroke-width="0.23" textLength="25.00" lengthAdjust="spacing">BIAS</text>
<line x1="1076.3" y1="141.2" x2="1170.0" y2="142.0" stroke="#111" stroke-width="2.2" stroke-linecap="butt"/>
<circle cx="1080.6" cy="141.2" r="2.2" fill="#111"/>
<path d="M1177.2,142.0 L1172.4,139.2 L1169.2,142.0 L1172.4,144.8 Z" fill="#111"/>
<text transform="translate(1183.29,145.65) scale(0.842,1)" font-family="Liberation Sans" font-weight="bold" font-size="10.90" fill="#111" stroke="#111" stroke-width="0.30">B</text>
<text transform="translate(1189.96,145.65) scale(1.146,1)" font-family="Liberation Sans" font-weight="bold" font-size="10.90" fill="#111" stroke="#111" stroke-width="0.22">I</text>
<text transform="translate(1194.74,145.65) scale(0.957,1)" font-family="Liberation Sans" font-weight="bold" font-size="10.90" fill="#111" stroke="#111" stroke-width="0.26">A</text>
<line x1="1077.0" y1="119.4" x2="1080.0" y2="119.4" stroke="#111" stroke-width="1.4" stroke-linecap="butt"/>
<text transform="translate(1038.06,141.50) scale(1.086,1)" font-family="Liberation Sans" font-weight="bold" font-size="10.17" fill="#111" stroke="#111" stroke-width="0.23" textLength="21.49" lengthAdjust="spacing">RI29</text>
<text transform="translate(1038.76,152.90) scale(1.025,1)" font-family="Liberation Sans" font-weight="bold" font-size="10.17" fill="#111" stroke="#111" stroke-width="0.24" textLength="13.01" lengthAdjust="spacing">3K</text>
<text transform="translate(1112.12,161.30) scale(1.161,1)" font-family="Liberation Sans" font-weight="bold" font-size="10.17" fill="#111" stroke="#111" stroke-width="0.22" textLength="21.49" lengthAdjust="spacing">CI04</text>
<text transform="translate(1112.21,172.30) scale(1.102,1)" font-family="Liberation Sans" font-weight="bold" font-size="10.17" fill="#111" stroke="#111" stroke-width="0.23">2</text>
<text transform="translate(1121.45,172.30) scale(1.259,1)" font-family="Liberation Sans" font-weight="bold" font-size="10.17" fill="#111" stroke="#111" stroke-width="0.20" textLength="16.98" lengthAdjust="spacing">700</text>
<line x1="1071.6" y1="183.3" x2="1128.0" y2="183.6" stroke="#111" stroke-width="2.2" stroke-linecap="butt"/>
<line x1="1134.0" y1="183.6" x2="1170.0" y2="184.0" stroke="#111" stroke-width="2.2" stroke-linecap="butt"/>
<path d="M1177.2,184.0 L1172.4,181.2 L1169.2,184.0 L1172.4,186.8 Z" fill="#111"/>
<path d="M1127,176.7 Q1131.8,184 1127,192" stroke="#111" stroke-width="2.1" fill="none" stroke-linejoin="round"/>
<line x1="1134.0" y1="176.7" x2="1134.0" y2="191.6" stroke="#111" stroke-width="2.1" stroke-linecap="butt"/>
<text transform="translate(1184.79,181.30) scale(0.937,1)" font-family="Liberation Sans" font-weight="bold" font-size="10.47" fill="#111" stroke="#111" stroke-width="0.27" textLength="14.53" lengthAdjust="spacing">TO</text>
<text transform="translate(1184.79,194.20) scale(0.962,1)" font-family="Liberation Sans" font-weight="bold" font-size="10.47" fill="#111" stroke="#111" stroke-width="0.26" textLength="13.95" lengthAdjust="spacing">TR</text>
<path d="M1071.8,211.9 Q1072,213.8 1075,213.8" stroke="#111" stroke-width="2.1" fill="none" stroke-linejoin="round"/>
<line x1="1075.0" y1="213.8" x2="1168.0" y2="215.0" stroke="#111" stroke-width="2.2" stroke-linecap="butt"/>
<path d="M1174.8,215.0 L1170.0,212.2 L1166.8,215.0 L1170.0,217.8 Z" fill="#111"/>
<text transform="translate(1182.53,219.85) scale(0.900,1)" font-family="Liberation Sans" font-weight="bold" font-size="11.19" fill="#111" stroke="#111" stroke-width="0.28" textLength="16.45" lengthAdjust="spacing">LO</text>
<path d="M1075.0,214.0 L1067.5,219.4 L1077.5,225.6 L1067.5,230.6 L1075.0,236.4" stroke="#111" stroke-width="2.1" fill="none" stroke-linejoin="miter"/>
<text transform="translate(1092.47,209.50) scale(1.109,1)" font-family="Liberation Sans" font-weight="bold" font-size="8.43" fill="#111" stroke="#111" stroke-width="0.23">B</text>
<line x1="1075.0" y1="236.9" x2="1124.4" y2="237.0" stroke="#111" stroke-width="2.1" stroke-linecap="butt"/>
<line x1="1124.4" y1="237.0" x2="1124.6" y2="273.7" stroke="#111" stroke-width="2.1" stroke-linecap="butt"/>
<text transform="translate(1092.24,232.95) scale(1.089,1)" font-family="Liberation Sans" font-weight="bold" font-size="9.45" fill="#111" stroke="#111" stroke-width="0.23">A</text>
<line x1="1075.0" y1="236.9" x2="1068.1" y2="241.3" stroke="#111" stroke-width="2.1" stroke-linecap="butt"/>
<circle cx="1068.3" cy="241.3" r="2.2" fill="#111"/>
<path d="M1068.3,241.3 Q1070.6,243 1070.6,247.5 L1070.7,273.7" stroke="#111" stroke-width="2.1" fill="none" stroke-linejoin="round"/>
<text transform="translate(1076.81,266.90) scale(1.262,1)" font-family="Liberation Sans" font-weight="bold" font-size="7.27" fill="#111" stroke="#111" stroke-width="0.48">+</text>
<line x1="976.4" y1="272.8" x2="1007.5" y2="272.8" stroke="#111" stroke-width="2.2" stroke-linecap="butt"/>
<path d="M989.4,272.8 L984.6,270.0 L981.4,272.8 L984.6,275.6 Z" fill="#111"/>
<text transform="translate(968.29,274.95) scale(0.701,1)" font-family="Liberation Sans" font-weight="bold" font-size="9.45" fill="#111" stroke="#111" stroke-width="0.36">Y</text>
<path d="M1007.5,272.8 L1009.5,267.6 L1015.5,277.8 L1021.0,267.6 L1026.8,277.8 L1032.5,267.6 L1038.0,277.8 L1040.5,273.0" stroke="#111" stroke-width="2.1" fill="none" stroke-linejoin="miter"/>
<line x1="1040.5" y1="273.0" x2="1168.0" y2="273.6" stroke="#111" stroke-width="2.2" stroke-linecap="butt"/>
<path d="M1175.3,273.6 L1170.5,270.8 L1167.3,273.6 L1170.5,276.4 Z" fill="#111"/>
<circle cx="1070.7" cy="273.6" r="3.0" fill="#111"/>
<circle cx="1124.5" cy="273.7" r="3.0" fill="#111"/>
<text transform="translate(1182.54,277.75) scale(0.900,1)" font-family="Liberation Sans" font-weight="bold" font-size="10.90" fill="#111" stroke="#111" stroke-width="0.28" textLength="16.69" lengthAdjust="spacing">NO</text>
<text transform="translate(991.23,235.50) scale(1.125,1)" font-family="Liberation Sans" font-weight="bold" font-size="10.17" fill="#111" stroke="#111" stroke-width="0.22" textLength="21.49" lengthAdjust="spacing">RI33</text>
<text transform="translate(992.05,247.85) scale(1.200,1)" font-family="Liberation Sans" font-weight="bold" font-size="10.32" fill="#111" stroke="#111" stroke-width="0.21" textLength="17.22" lengthAdjust="spacing">680</text>
<text transform="translate(991.47,262.15) scale(0.995,1)" font-family="Liberation Sans" font-weight="bold" font-size="10.61" fill="#111" stroke="#111" stroke-width="0.25" textLength="33.01" lengthAdjust="spacing">(NOTE</text>
<text transform="translate(1032.32,262.15) scale(1.300,1)" font-family="Liberation Sans" font-weight="bold" font-size="10.61" fill="#111" stroke="#111" stroke-width="0.19" textLength="11.13" lengthAdjust="spacing">2)</text>
<text transform="translate(1037.19,220.50) scale(1.192,1)" font-family="Liberation Sans" font-weight="bold" font-size="10.17" fill="#111" stroke="#111" stroke-width="0.21" textLength="21.49" lengthAdjust="spacing">RI30</text>
<text transform="translate(1035.59,233.10) scale(1.265,1)" font-family="Liberation Sans" font-weight="bold" font-size="10.17" fill="#111" stroke="#111" stroke-width="0.20" textLength="22.63" lengthAdjust="spacing">8500</text>
<text transform="translate(1018.07,311.50) scale(0.756,1)" font-family="Liberation Sans" font-weight="bold" font-size="14.53" fill="#111" stroke="#111" stroke-width="0.33">B</text>
<text transform="translate(1039.22,311.40) scale(0.851,1)" font-family="Liberation Sans" font-weight="bold" font-size="13.37" fill="#111" stroke="#111" stroke-width="0.29" textLength="64.63" lengthAdjust="spacing">VOLTAGE</text>
<text transform="translate(1101.19,311.40) scale(0.900,1)" font-family="Liberation Sans" font-weight="bold" font-size="13.37" fill="#111" stroke="#111" stroke-width="0.28" textLength="58.43" lengthAdjust="spacing">DIVIDER</text>
<text transform="translate(1160.27,311.40) scale(0.820,1)" font-family="Liberation Sans" font-weight="bold" font-size="13.37" fill="#111" stroke="#111" stroke-width="0.30" textLength="28.23" lengthAdjust="spacing">FOR</text>
<text transform="translate(1190.61,311.40) scale(1.110,1)" font-family="Liberation Sans" font-weight="bold" font-size="13.37" fill="#111" stroke="#111" stroke-width="0.23">P</text>
<text transform="translate(1038.56,325.70) scale(0.884,1)" font-family="Liberation Sans" font-weight="bold" font-size="13.37" fill="#111" stroke="#111" stroke-width="0.28" textLength="55.73" lengthAdjust="spacing">SCREEN</text>
<text transform="translate(1095.92,325.70) scale(0.839,1)" font-family="Liberation Sans" font-weight="bold" font-size="13.37" fill="#111" stroke="#111" stroke-width="0.30" textLength="64.63" lengthAdjust="spacing">VOLTAGE</text>
<text transform="translate(1161.65,325.70) scale(1.002,1)" font-family="Liberation Sans" font-weight="bold" font-size="13.37" fill="#111" stroke="#111" stroke-width="0.25" textLength="38.63" lengthAdjust="spacing">TV-7A</text>
<text transform="translate(1038.65,339.50) scale(0.900,1)" font-family="Liberation Sans" font-weight="bold" font-size="13.37" fill="#111" stroke="#111" stroke-width="0.28" textLength="53.02" lengthAdjust="spacing">SERIAL</text>
<text transform="translate(1095.21,339.50) scale(0.881,1)" font-family="Liberation Sans" font-weight="bold" font-size="13.37" fill="#111" stroke="#111" stroke-width="0.28" textLength="67.60" lengthAdjust="spacing">NUMBERS</text>
<text transform="translate(1175.57,339.50) scale(0.898,1)" font-family="Liberation Sans" font-weight="bold" font-size="13.37" fill="#111" stroke="#111" stroke-width="0.28" textLength="27.48" lengthAdjust="spacing">THR</text>
<text transform="translate(1160.69,339.50) scale(0.964,1)" font-family="Liberation Sans" font-weight="bold" font-size="13.37" fill="#111" stroke="#111" stroke-width="0.26">1</text>
<text transform="translate(968.24,419.10) scale(0.711,1)" font-family="Liberation Sans" font-weight="bold" font-size="10.17" fill="#111" stroke="#111" stroke-width="0.35">X</text>
<line x1="985.0" y1="415.1" x2="1170.0" y2="415.8" stroke="#111" stroke-width="2.2" stroke-linecap="butt"/>
<path d="M976.9,415.0 L983.5,412.2 L987.9,415.0 L983.5,417.8 Z" fill="#111"/>
<circle cx="1069.7" cy="415.3" r="2.8" fill="#111"/>
<path d="M1177.2,415.8 L1172.4,413.0 L1169.2,415.8 L1172.4,418.6 Z" fill="#111"/>
<text transform="translate(1183.59,419.85) scale(0.890,1)" font-family="Liberation Sans" font-weight="bold" font-size="11.19" fill="#111" stroke="#111" stroke-width="0.28" textLength="15.54" lengthAdjust="spacing">TO</text>
<line x1="1069.7" y1="415.3" x2="1070.0" y2="432.0" stroke="#111" stroke-width="2.1" stroke-linecap="butt"/>
<path d="M1070.0,432.0 L1074.8,436.0 L1065.5,444.0 L1074.8,452.0 L1065.5,460.0 L1069.8,465.0" stroke="#111" stroke-width="2.1" fill="none" stroke-linejoin="miter"/>
<line x1="1069.8" y1="465.0" x2="1070.0" y2="482.3" stroke="#111" stroke-width="2.1" stroke-linecap="butt"/>
<rect x="1087.5" y="427.3" width="31.7" height="14.2" stroke="#111" stroke-width="1.9" fill="none"/>
<text transform="translate(1090.27,438.00) scale(1.046,1)" font-family="Liberation Sans" font-weight="bold" font-size="10.47" fill="#111" stroke="#111" stroke-width="0.24" textLength="25.00" lengthAdjust="spacing">BIAS</text>
<line x1="1074.8" y1="446.2" x2="1170.0" y2="446.3" stroke="#111" stroke-width="2.2" stroke-linecap="butt"/>
<circle cx="1080.5" cy="446.2" r="2.2" fill="#111"/>
<path d="M1177.2,446.3 L1172.4,443.5 L1169.2,446.3 L1172.4,449.1 Z" fill="#111"/>
<text transform="translate(1181.97,449.40) scale(0.893,1)" font-family="Liberation Sans" font-weight="bold" font-size="10.47" fill="#111" stroke="#111" stroke-width="0.28">B</text>
<text transform="translate(1189.76,449.40) scale(1.194,1)" font-family="Liberation Sans" font-weight="bold" font-size="10.47" fill="#111" stroke="#111" stroke-width="0.21">I</text>
<text transform="translate(1194.05,449.40) scale(0.954,1)" font-family="Liberation Sans" font-weight="bold" font-size="10.47" fill="#111" stroke="#111" stroke-width="0.26">A</text>
<line x1="1075.0" y1="419.5" x2="1078.0" y2="419.5" stroke="#111" stroke-width="1.4" stroke-linecap="butt"/>
<text transform="translate(1035.20,430.50) scale(1.171,1)" font-family="Liberation Sans" font-weight="bold" font-size="10.17" fill="#111" stroke="#111" stroke-width="0.21" textLength="21.49" lengthAdjust="spacing">RI28</text>
<text transform="translate(1035.78,443.00) scale(0.947,1)" font-family="Liberation Sans" font-weight="bold" font-size="10.17" fill="#111" stroke="#111" stroke-width="0.26" textLength="13.01" lengthAdjust="spacing">3K</text>
<text transform="translate(1105.46,462.10) scale(1.300,1)" font-family="Liberation Sans" font-weight="bold" font-size="10.17" fill="#111" stroke="#111" stroke-width="0.19" textLength="21.57" lengthAdjust="spacing">CI04</text>
<text transform="translate(1105.52,472.30) scale(1.387,1)" font-family="Liberation Sans" font-weight="bold" font-size="9.88" fill="#111" stroke="#111" stroke-width="0.18">2</text>
<text transform="translate(1116.45,472.30) scale(1.300,1)" font-family="Liberation Sans" font-weight="bold" font-size="9.88" fill="#111" stroke="#111" stroke-width="0.19" textLength="17.00" lengthAdjust="spacing">700</text>
<path d="M1122.5,474.3 Q1127.3,482 1122.5,489.6" stroke="#111" stroke-width="2.1" fill="none" stroke-linejoin="round"/>
<line x1="1130.0" y1="474.3" x2="1130.0" y2="489.6" stroke="#111" stroke-width="2.1" stroke-linecap="butt"/>
<line x1="1021.3" y1="482.0" x2="1123.8" y2="482.5" stroke="#111" stroke-width="2.2" stroke-linecap="butt"/>
<line x1="1130.0" y1="482.7" x2="1170.0" y2="483.0" stroke="#111" stroke-width="2.2" stroke-linecap="butt"/>
<path d="M1177.2,483.0 L1172.4,480.2 L1169.2,483.0 L1172.4,485.8 Z" fill="#111"/>
<circle cx="1070.0" cy="482.3" r="2.8" fill="#111"/>
<text transform="translate(1184.19,478.40) scale(0.945,1)" font-family="Liberation Sans" font-weight="bold" font-size="10.47" fill="#111" stroke="#111" stroke-width="0.26" textLength="14.53" lengthAdjust="spacing">TO</text>
<text transform="translate(1184.19,490.10) scale(0.969,1)" font-family="Liberation Sans" font-weight="bold" font-size="10.47" fill="#111" stroke="#111" stroke-width="0.26" textLength="13.95" lengthAdjust="spacing">TR</text>
<line x1="1013.8" y1="456.6" x2="1013.8" y2="466.0" stroke="#111" stroke-width="2.1" stroke-linecap="butt"/>
<path d="M1013.8,466.0 L1018.5,470.5 L1010.0,476.1 L1018.5,481.8 L1010.0,487.4 L1018.5,493.0 L1010.0,498.6 L1018.5,504.2 L1010.0,509.9 L1018.5,515.5 L1010.0,521.1 L1018.5,526.8 L1010.0,532.4 L1013.8,535.0" stroke="#111" stroke-width="2.1" fill="none" stroke-linejoin="miter"/>
<line x1="1013.8" y1="535.0" x2="1014.0" y2="561.7" stroke="#111" stroke-width="2.2" stroke-linecap="butt"/>
<line x1="1014.0" y1="561.7" x2="976.3" y2="561.7" stroke="#111" stroke-width="2.2" stroke-linecap="butt"/>
<circle cx="984.5" cy="561.7" r="1.9" stroke="#111" stroke-width="1.6" fill="none"/>
<text transform="translate(965.86,564.80) scale(1.027,1)" font-family="Liberation Sans" font-weight="bold" font-size="8.14" fill="#111" stroke="#111" stroke-width="0.24">Y</text>
<text transform="translate(984.50,556.35) scale(1.573,1)" font-family="Liberation Sans" font-weight="normal" font-size="6.54" fill="#111" stroke="#111" stroke-width="0.16">+</text>
<text transform="translate(1019.90,557.50) scale(1.699,1)" font-family="Liberation Sans" font-weight="normal" font-size="7.27" fill="#111" stroke="#111" stroke-width="0.15">+</text>
<circle cx="1021.3" cy="482.0" r="2.2" fill="#111"/>
<line x1="1019.0" y1="504.4" x2="1170.0" y2="505.8" stroke="#111" stroke-width="2.2" stroke-linecap="butt"/>
<circle cx="1021.3" cy="504.4" r="2.2" fill="#111"/>
<path d="M1177.2,505.8 L1172.4,503.0 L1169.2,505.8 L1172.4,508.6 Z" fill="#111"/>
<line x1="1019.0" y1="527.0" x2="1170.0" y2="528.0" stroke="#111" stroke-width="2.2" stroke-linecap="butt"/>
<circle cx="1021.3" cy="527.0" r="2.2" fill="#111"/>
<path d="M1177.2,528.0 L1172.4,525.2 L1169.2,528.0 L1172.4,530.8 Z" fill="#111"/>
<text transform="translate(1021.79,475.75) scale(1.068,1)" font-family="Liberation Sans" font-weight="bold" font-size="9.45" fill="#111" stroke="#111" stroke-width="0.23">C</text>
<text transform="translate(1021.48,498.25) scale(1.145,1)" font-family="Liberation Sans" font-weight="bold" font-size="9.45" fill="#111" stroke="#111" stroke-width="0.22">B</text>
<text transform="translate(1021.95,522.65) scale(1.073,1)" font-family="Liberation Sans" font-weight="bold" font-size="9.45" fill="#111" stroke="#111" stroke-width="0.23">A</text>
<text transform="translate(1182.53,510.15) scale(0.900,1)" font-family="Liberation Sans" font-weight="bold" font-size="11.19" fill="#111" stroke="#111" stroke-width="0.28" textLength="16.45" lengthAdjust="spacing">LO</text>
<text transform="translate(1182.54,532.15) scale(0.900,1)" font-family="Liberation Sans" font-weight="bold" font-size="10.90" fill="#111" stroke="#111" stroke-width="0.28" textLength="16.69" lengthAdjust="spacing">NO</text>
<text transform="translate(977.51,493.10) scale(1.162,1)" font-family="Liberation Sans" font-weight="bold" font-size="10.17" fill="#111" stroke="#111" stroke-width="0.22" textLength="21.49" lengthAdjust="spacing">RI30</text>
<text transform="translate(977.89,505.30) scale(1.175,1)" font-family="Liberation Sans" font-weight="bold" font-size="10.17" fill="#111" stroke="#111" stroke-width="0.21" textLength="22.63" lengthAdjust="spacing">9500</text>
<text transform="translate(1016.68,595.50) scale(0.705,1)" font-family="Liberation Sans" font-weight="bold" font-size="14.53" fill="#111" stroke="#111" stroke-width="0.35">C</text>
<text transform="translate(1038.42,595.20) scale(0.889,1)" font-family="Liberation Sans" font-weight="bold" font-size="13.37" fill="#111" stroke="#111" stroke-width="0.28" textLength="64.63" lengthAdjust="spacing">VOLTAGE</text>
<text transform="translate(1103.19,595.20) scale(0.900,1)" font-family="Liberation Sans" font-weight="bold" font-size="13.37" fill="#111" stroke="#111" stroke-width="0.28" textLength="59.73" lengthAdjust="spacing">DIVIDER</text>
<text transform="translate(1162.75,595.20) scale(0.835,1)" font-family="Liberation Sans" font-weight="bold" font-size="13.37" fill="#111" stroke="#111" stroke-width="0.30" textLength="28.23" lengthAdjust="spacing">FOR</text>
<text transform="translate(1037.25,609.70) scale(0.900,1)" font-family="Liberation Sans" font-weight="bold" font-size="13.37" fill="#111" stroke="#111" stroke-width="0.28" textLength="58.00" lengthAdjust="spacing">SCREEN</text>
<text transform="translate(1097.32,609.70) scale(0.850,1)" font-family="Liberation Sans" font-weight="bold" font-size="13.37" fill="#111" stroke="#111" stroke-width="0.29" textLength="64.63" lengthAdjust="spacing">VOLTAGE</text>
<text transform="translate(1165.86,609.70) scale(0.900,1)" font-family="Liberation Sans" font-weight="bold" font-size="13.37" fill="#111" stroke="#111" stroke-width="0.28" textLength="18.95" lengthAdjust="spacing">TV</text>
<text transform="translate(1185.81,609.70) scale(2.072,1)" font-family="Liberation Sans" font-weight="bold" font-size="13.37" fill="#111" stroke="#111" stroke-width="0.12">7</text>
<text transform="translate(1035.71,623.70) scale(1.300,1)" font-family="Liberation Sans" font-weight="bold" font-size="12.50" fill="#111" stroke="#111" stroke-width="0.19" textLength="24.10" lengthAdjust="spacing">I20I</text>
<text transform="translate(1075.17,623.70) scale(0.900,1)" font-family="Liberation Sans" font-weight="bold" font-size="12.50" fill="#111" stroke="#111" stroke-width="0.28" textLength="66.97" lengthAdjust="spacing">THROUGH</text>
<text transform="translate(1142.96,623.70) scale(1.007,1)" font-family="Liberation Sans" font-weight="bold" font-size="12.50" fill="#111" stroke="#111" stroke-width="0.25">9</text>
<text transform="translate(1154.76,623.70) scale(1.255,1)" font-family="Liberation Sans" font-weight="bold" font-size="12.50" fill="#111" stroke="#111" stroke-width="0.20" textLength="20.86" lengthAdjust="spacing">492</text>
<text transform="translate(1191.70,623.70) scale(0.954,1)" font-family="Liberation Sans" font-weight="bold" font-size="12.50" fill="#111" stroke="#111" stroke-width="0.26">A</text>
</svg>
</body></html>
